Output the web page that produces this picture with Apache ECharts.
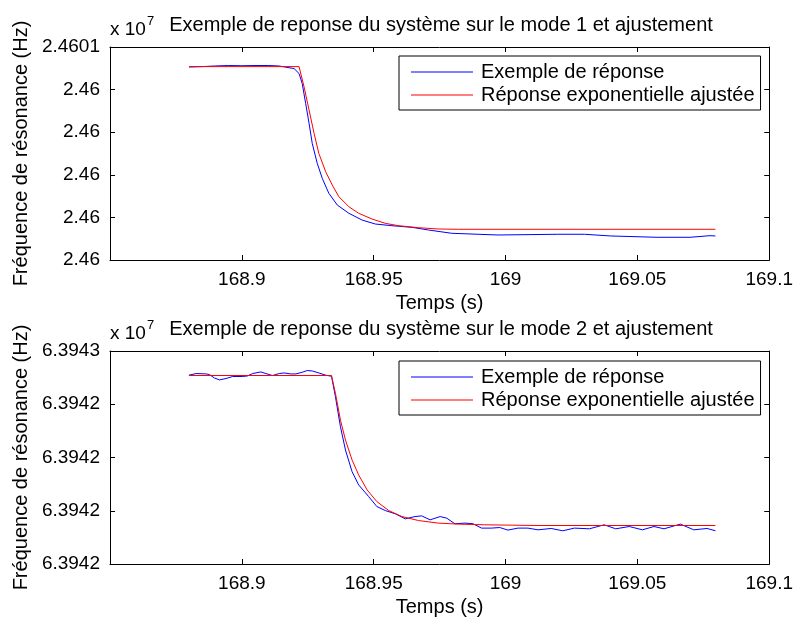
<!DOCTYPE html>
<html>
<head>
<meta charset="utf-8">
<script src="https://cdn.jsdelivr.net/npm/echarts@6/dist/echarts.min.js"></script>
<style>
html,body{margin:0;padding:0;background:#fff;}
#chart{width:796px;height:618px;}
</style>
</head>
<body>
<div id="chart"></div>
<script>
// ---------- data ----------
const titles = [
  'Exemple de reponse du système sur le mode 1 et ajustement',
  'Exemple de reponse du système sur le mode 2 et ajustement'
];
const seriesNames = ['Exemple de réponse', 'Réponse exponentielle ajustée'];
const xAxisName = 'Temps (s)';
const yAxisName = 'Fréquence de résonance (Hz)';

const xMin = 168.85, xMax = 169.1, xStep = 0.05;
const xTickLabels = ['', '168.9', '168.95', '169', '169.05', '169.1'];

const topYMin = 24600000, topYMax = 24600500, topYStep = 100;
const topYTickLabels = ['2.46', '2.46', '2.46', '2.46', '2.46', '2.4601'];
const botYMin = 63942100, botYMax = 63942500, botYStep = 100;
const botYTickLabels = ['6.3942', '6.3942', '6.3942', '6.3942', '6.3943'];

// mode 1 : measured response
const topBlueT = [168.880, 168.885, 168.890, 168.895, 168.900, 168.905, 168.910, 168.914, 168.9198, 168.9217,
  168.9229, 168.9242, 168.9255, 168.9267, 168.9286, 168.9305, 168.9330, 168.9362, 168.9406, 168.9456,
  168.9506, 168.9569, 168.9645, 168.9708, 168.9796, 168.9896, 168.9972, 169.0198, 169.0299, 169.0399,
  169.0575, 169.0700, 169.0775, 169.0796];
const topBlueF = [24600453, 24600454, 24600455.5, 24600456.5, 24600456, 24600456.5, 24600456.5, 24600455.5, 24600449.4, 24600437.7,
  24600414.2, 24600367.4, 24600320.5, 24600273.6, 24600226.7, 24600191.6, 24600156.4, 24600129.0, 24600109.6, 24600093.8,
  24600084.5, 24600080.5, 24600076.7, 24600070.4, 24600062.7, 24600060.4, 24600058.7, 24600060.4, 24600060.4, 24600056.4,
  24600053.3, 24600053.3, 24600057.1, 24600056.4];
// mode 1 : fitted exponential
const topRedT = [168.880, 168.9217, 168.9236, 168.9255, 168.9274, 168.9292, 168.9318, 168.9343, 168.9368, 168.9406,
  168.9443, 168.9494, 168.9544, 168.9594, 168.9670, 168.9745, 168.9821, 169.0796];
const topRedF = [24600454, 24600454, 24600406.3, 24600351.7, 24600297.0, 24600250.2, 24600207.1, 24600175.9, 24600148.5, 24600125.0,
  24600109.6, 24600096.2, 24600086.1, 24600080.5, 24600075.8, 24600072.8, 24600072.1, 24600072.1];

// mode 2 : measured response
const botBlueT = [168.8799, 168.8827, 168.8865, 168.8877, 168.8896, 168.8915, 168.8940, 168.8965, 168.9003, 168.9022,
  168.9041, 168.9072, 168.9091, 168.9116, 168.9142, 168.9160, 168.9186, 168.9205, 168.9229, 168.9248,
  168.9267, 168.9292, 168.9318, 168.9340, 168.9355, 168.9374, 168.9393, 168.9418, 168.9443, 168.9481,
  168.9512, 168.9544, 168.9582, 168.9620, 168.9657, 168.9682, 168.9714, 168.9752, 168.9777, 168.9808,
  168.9846, 168.9877, 168.9909, 168.9946, 168.9978, 169.0009, 169.0047, 169.0085, 169.0123, 169.0173,
  169.0217, 169.0261, 169.0318, 169.0374, 169.0418, 169.0469, 169.0519, 169.0563, 169.0601, 169.0663,
  169.0714, 169.0764, 169.0796];
const botBlueF = [63942454.5, 63942457.7, 63942456.9, 63942455.8, 63942449.4, 63942445.7, 63942448.3, 63942452.1, 63942452.1, 63942453.2,
  63942457.7, 63942460.7, 63942457.7, 63942453.9, 63942457.7, 63942458.8, 63942456.9, 63942456.9, 63942460.1, 63942463.3,
  63942462.5, 63942458.8, 63942454.5, 63942452.6, 63942413.9, 63942357.7, 63942314.0, 63942273.4, 63942248.5, 63942226.6,
  63942207.9, 63942200.4, 63942194.2, 63942184.8, 63942189.1, 63942190.4, 63942182.9, 63942189.1, 63942186.1, 63942175.5,
  63942176.8, 63942175.5, 63942167.4, 63942167.4, 63942168.5, 63942163.7, 63942167.4, 63942167.4, 63942164.2, 63942166.7,
  63942162.4, 63942167.4, 63942166.1, 63942173.6, 63942166.1, 63942170.4, 63942164.2, 63942170.4, 63942166.1, 63942174.9,
  63942164.2, 63942166.7, 63942162.4];
// mode 2 : fitted exponential
const botRedT = [168.880, 168.9340, 168.9355, 168.9374, 168.9393, 168.9418, 168.9443, 168.9475, 168.9512, 168.9557,
  168.9607, 168.9670, 168.9745, 168.9821, 168.9921, 169.0123, 169.0796];
const botRedF = [63942454, 63942454, 63942420.2, 63942370.2, 63942332.8, 63942295.3, 63942267.2, 63942239.1, 63942217.2, 63942200.4,
  63942189.1, 63942181.6, 63942176.8, 63942174.9, 63942173.6, 63942172.3, 63942172.3];

// ---------- chart ----------
const FONT = '"Liberation Sans", Arial, Helvetica, sans-serif';
const zip = (a, b) => a.map((v, i) => [v, b[i]]);
const grids = [
  {left: 110, top: 47, right: 25, height: 213},
  {left: 110, top: 351, right: 25, height: 213}
];
const blk = {color: '#000', width: 1};

function xAxesFor(g) {
  const common = {
    type: 'value', gridIndex: g, min: xMin, max: xMax, interval: xStep,
    axisLine: {show: true, onZero: false, lineStyle: blk},
    axisTick: {show: true, inside: true, length: 5, lineStyle: blk},
    splitLine: {show: false}
  };
  return [
    Object.assign({}, common, {
      position: 'bottom',
      axisLabel: {show: true, fontSize: 19, color: '#000', margin: 10, fontFamily: FONT,
        formatter: v => xTickLabels[Math.round((v - xMin) / xStep)] || ''},
      name: xAxisName, nameLocation: 'middle', nameGap: 33,
      nameTextStyle: {fontSize: 20, color: '#000', fontFamily: FONT}
    }),
    Object.assign({}, common, {position: 'top', axisLabel: {show: false}})
  ];
}
function yAxesFor(g, mn, mx, st, labels) {
  const common = {
    type: 'value', gridIndex: g, min: mn, max: mx, interval: st,
    axisLine: {show: true, onZero: false, lineStyle: blk},
    axisTick: {show: true, inside: true, length: 5, lineStyle: blk},
    splitLine: {show: false}
  };
  return [
    Object.assign({}, common, {
      position: 'left',
      axisLabel: {show: true, fontSize: 19, color: '#000', margin: 10, fontFamily: FONT,
        formatter: v => labels[Math.round((v - mn) / st)] || ''},
      name: yAxisName, nameLocation: 'middle', nameGap: 77,
      nameTextStyle: {fontSize: 20, color: '#000', fontFamily: FONT}
    }),
    Object.assign({}, common, {position: 'right', axisLabel: {show: false}})
  ];
}

function legendAt(top) {
  return {
    left: 399, top: top, orient: 'vertical', data: seriesNames,
    icon: 'rect', itemWidth: 62, itemHeight: 1.2, itemGap: 3,
    borderColor: '#000', borderWidth: 1, backgroundColor: '#fff',
    padding: [6, 6, 5, 12],
    textStyle: {fontSize: 20, color: '#000', fontFamily: FONT, lineHeight: 20, padding: [0, 0, 0, 3]}
  };
}

function titleSet(titleText, boxTop) {
  return [
    {text: titleText, left: 441, top: boxTop - 34, textAlign: 'center', padding: 0,
      textStyle: {fontSize: 20, fontWeight: 'normal', color: '#000', fontFamily: FONT, lineHeight: 24}},
    {text: 'x 10', left: 110, top: boxTop - 28, padding: 0,
      textStyle: {fontSize: 19, fontWeight: 'normal', color: '#000', fontFamily: FONT, lineHeight: 22}},
    {text: '7', left: 147, top: boxTop - 33, padding: 0,
      textStyle: {fontSize: 13, fontWeight: 'normal', color: '#000', fontFamily: FONT, lineHeight: 14}}
  ];
}

const lineSeries = (name, data, color, xi, yi) => ({
  type: 'line', name: name, data: data, xAxisIndex: xi, yAxisIndex: yi,
  symbol: 'none', showSymbol: false, color: color,
  itemStyle: {color: color},
  lineStyle: {width: 1, color: color}, animation: false
});

const option = {
  animation: false,
  backgroundColor: '#fff',
  textStyle: {fontFamily: FONT},
  title: titleSet(titles[0], 47).concat(titleSet(titles[1], 351)),
  grid: grids,
  xAxis: xAxesFor(0).concat(xAxesFor(1)),
  yAxis: yAxesFor(0, topYMin, topYMax, topYStep, topYTickLabels)
    .concat(yAxesFor(1, botYMin, botYMax, botYStep, botYTickLabels)),
  legend: [legendAt(56), legendAt(361)],
  series: [
    lineSeries(seriesNames[0], zip(topBlueT, topBlueF), '#0000ff', 0, 0),
    lineSeries(seriesNames[1], zip(topRedT, topRedF), '#ff0000', 0, 0),
    lineSeries(seriesNames[0], zip(botBlueT, botBlueF), '#0000ff', 2, 2),
    lineSeries(seriesNames[1], zip(botRedT, botRedF), '#ff0000', 2, 2)
  ]
};

const chart = echarts.init(document.getElementById('chart'), null, {renderer: 'canvas'});
chart.setOption(option);
</script>
</body>
</html>
